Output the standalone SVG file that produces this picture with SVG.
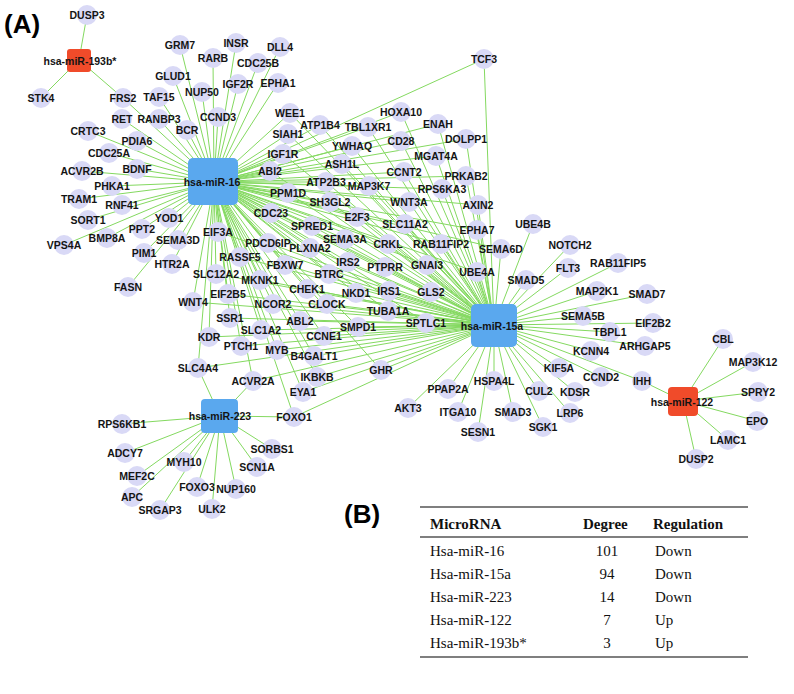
<svg xmlns="http://www.w3.org/2000/svg" width="794" height="694" viewBox="0 0 794 694">
<style>
.bg{fill:#ffffff}
#edges line{stroke:#84d960;stroke-width:1}
.n circle{fill:#d9d9f6}
.n text,.h text{font-family:"Liberation Sans",Arial,sans-serif;font-weight:bold;font-size:10.5px;fill:#141414;text-anchor:middle;dominant-baseline:central}
.hb rect{fill:#5aa8ee}
.hr rect{fill:#f04b2a}
.pl{font-family:"Liberation Sans",Arial,sans-serif;font-weight:bold;font-size:26px;fill:#000}
.tb{font-family:"Liberation Serif","Times New Roman",serif;font-size:15px;fill:#111}
.th{font-weight:bold}
.rule{stroke:#000;stroke-width:1.2}
</style>
<rect class="bg" x="0" y="0" width="794" height="694"/>
<text class="pl" x="4" y="33">(A)</text>
<text class="pl" x="344" y="523">(B)</text>
<g id="edges">
<g id="e-miR-193b">
<line x1="79" y1="60" x2="87" y2="15"/><line x1="79" y1="60" x2="41" y2="98"/><line x1="79" y1="60" x2="123" y2="98"/>
</g>
<g id="e-miR-122">
<line x1="683" y1="401" x2="723" y2="339"/><line x1="683" y1="401" x2="753" y2="362"/><line x1="683" y1="401" x2="758" y2="392"/><line x1="683" y1="401" x2="757" y2="421"/><line x1="683" y1="401" x2="728" y2="440"/><line x1="683" y1="401" x2="696" y2="459"/><line x1="683" y1="401" x2="642" y2="381"/>
</g>
<g id="e-miR-223">
<line x1="220" y1="416" x2="122" y2="424"/><line x1="220" y1="416" x2="125" y2="453"/><line x1="220" y1="416" x2="137" y2="476"/><line x1="220" y1="416" x2="132" y2="497"/><line x1="220" y1="416" x2="160" y2="510"/><line x1="220" y1="416" x2="212" y2="509"/><line x1="220" y1="416" x2="197" y2="487"/><line x1="220" y1="416" x2="236" y2="489"/><line x1="220" y1="416" x2="184" y2="462"/><line x1="220" y1="416" x2="257" y2="467"/><line x1="220" y1="416" x2="272" y2="449"/><line x1="220" y1="416" x2="294" y2="417"/><line x1="220" y1="416" x2="253" y2="381"/><line x1="220" y1="416" x2="198" y2="368"/>
</g>
<g id="e-miR-16">
<line x1="214" y1="182" x2="123" y2="98"/><line x1="214" y1="182" x2="180" y2="45"/><line x1="214" y1="182" x2="236" y2="43"/><line x1="214" y1="182" x2="213" y2="58"/><line x1="214" y1="182" x2="280" y2="47"/><line x1="214" y1="182" x2="258" y2="63"/><line x1="214" y1="182" x2="173" y2="76"/><line x1="214" y1="182" x2="238" y2="84"/><line x1="214" y1="182" x2="278" y2="83"/><line x1="214" y1="182" x2="202" y2="92"/><line x1="214" y1="182" x2="159" y2="97"/><line x1="214" y1="182" x2="218" y2="117"/><line x1="214" y1="182" x2="122" y2="119"/><line x1="214" y1="182" x2="159" y2="119"/><line x1="214" y1="182" x2="187" y2="130"/><line x1="214" y1="182" x2="88" y2="131"/><line x1="214" y1="182" x2="137" y2="141"/><line x1="214" y1="182" x2="109" y2="153"/><line x1="214" y1="182" x2="82" y2="171"/><line x1="214" y1="182" x2="137" y2="169"/><line x1="214" y1="182" x2="112" y2="186"/><line x1="214" y1="182" x2="79" y2="199"/><line x1="214" y1="182" x2="122" y2="205"/><line x1="214" y1="182" x2="88" y2="220"/><line x1="214" y1="182" x2="169" y2="218"/><line x1="214" y1="182" x2="142" y2="229"/><line x1="214" y1="182" x2="107" y2="238"/><line x1="214" y1="182" x2="64" y2="245"/><line x1="214" y1="182" x2="178" y2="240"/><line x1="214" y1="182" x2="144" y2="253"/><line x1="214" y1="182" x2="172" y2="264"/><line x1="214" y1="182" x2="128" y2="287"/>
<line x1="214" y1="182" x2="193" y2="302"/><line x1="214" y1="182" x2="218" y2="232"/><line x1="214" y1="182" x2="216" y2="274"/><line x1="214" y1="182" x2="240" y2="257"/><line x1="214" y1="182" x2="228" y2="294"/><line x1="214" y1="182" x2="230" y2="318"/><line x1="214" y1="182" x2="209" y2="337"/><line x1="214" y1="182" x2="260" y2="280"/><line x1="214" y1="182" x2="268" y2="243"/><line x1="214" y1="182" x2="285" y2="265"/><line x1="214" y1="182" x2="271" y2="213"/><line x1="214" y1="182" x2="288" y2="193"/><line x1="214" y1="182" x2="270" y2="171"/><line x1="214" y1="182" x2="283" y2="154"/><line x1="214" y1="182" x2="288" y2="134"/><line x1="214" y1="182" x2="290" y2="113"/><line x1="214" y1="182" x2="320" y2="125"/><line x1="214" y1="182" x2="368" y2="127"/><line x1="214" y1="182" x2="352" y2="146"/><line x1="214" y1="182" x2="342" y2="164"/><line x1="214" y1="182" x2="401" y2="112"/><line x1="214" y1="182" x2="438" y2="124"/><line x1="214" y1="182" x2="401" y2="141"/><line x1="214" y1="182" x2="466" y2="139"/><line x1="214" y1="182" x2="436" y2="156"/><line x1="214" y1="182" x2="404" y2="172"/><line x1="214" y1="182" x2="466" y2="176"/><line x1="214" y1="182" x2="442" y2="189"/><line x1="214" y1="182" x2="478" y2="205"/><line x1="214" y1="182" x2="409" y2="202"/><line x1="214" y1="182" x2="369" y2="186"/><line x1="214" y1="182" x2="326" y2="182"/><line x1="214" y1="182" x2="330" y2="202"/><line x1="214" y1="182" x2="357" y2="217"/><line x1="214" y1="182" x2="312" y2="226"/><line x1="214" y1="182" x2="345" y2="239"/><line x1="214" y1="182" x2="310" y2="248"/><line x1="214" y1="182" x2="388" y2="244"/><line x1="214" y1="182" x2="348" y2="262"/><line x1="214" y1="182" x2="385" y2="267"/><line x1="214" y1="182" x2="329" y2="274"/><line x1="214" y1="182" x2="405" y2="224"/><line x1="214" y1="182" x2="441" y2="244"/><line x1="214" y1="182" x2="477" y2="230"/><line x1="214" y1="182" x2="501" y2="249"/><line x1="214" y1="182" x2="427" y2="265"/><line x1="214" y1="182" x2="477" y2="272"/><line x1="214" y1="182" x2="381" y2="370"/><line x1="214" y1="182" x2="426" y2="323"/><line x1="214" y1="182" x2="431" y2="292"/><line x1="214" y1="182" x2="389" y2="291"/><line x1="214" y1="182" x2="388" y2="311"/><line x1="214" y1="182" x2="356" y2="293"/><line x1="214" y1="182" x2="307" y2="289"/><line x1="214" y1="182" x2="327" y2="304"/><line x1="214" y1="182" x2="273" y2="304"/><line x1="214" y1="182" x2="300" y2="321"/><line x1="214" y1="182" x2="358" y2="327"/><line x1="214" y1="182" x2="324" y2="336"/><line x1="214" y1="182" x2="261" y2="330"/><line x1="214" y1="182" x2="241" y2="346"/><line x1="214" y1="182" x2="277" y2="350"/><line x1="214" y1="182" x2="314" y2="356"/><line x1="214" y1="182" x2="198" y2="368"/><line x1="214" y1="182" x2="253" y2="381"/><line x1="214" y1="182" x2="317" y2="377"/><line x1="214" y1="182" x2="303" y2="392"/><line x1="214" y1="182" x2="294" y2="417"/><line x1="214" y1="182" x2="484" y2="59"/>
</g>
<g id="e-miR-15a">
<line x1="494" y1="325" x2="193" y2="302"/><line x1="494" y1="325" x2="218" y2="232"/><line x1="494" y1="325" x2="216" y2="274"/><line x1="494" y1="325" x2="240" y2="257"/><line x1="494" y1="325" x2="228" y2="294"/><line x1="494" y1="325" x2="230" y2="318"/><line x1="494" y1="325" x2="209" y2="337"/><line x1="494" y1="325" x2="260" y2="280"/><line x1="494" y1="325" x2="268" y2="243"/><line x1="494" y1="325" x2="285" y2="265"/><line x1="494" y1="325" x2="271" y2="213"/><line x1="494" y1="325" x2="288" y2="193"/><line x1="494" y1="325" x2="270" y2="171"/><line x1="494" y1="325" x2="283" y2="154"/><line x1="494" y1="325" x2="288" y2="134"/><line x1="494" y1="325" x2="290" y2="113"/><line x1="494" y1="325" x2="320" y2="125"/><line x1="494" y1="325" x2="368" y2="127"/><line x1="494" y1="325" x2="352" y2="146"/><line x1="494" y1="325" x2="342" y2="164"/><line x1="494" y1="325" x2="401" y2="112"/><line x1="494" y1="325" x2="438" y2="124"/><line x1="494" y1="325" x2="401" y2="141"/><line x1="494" y1="325" x2="466" y2="139"/><line x1="494" y1="325" x2="436" y2="156"/><line x1="494" y1="325" x2="404" y2="172"/><line x1="494" y1="325" x2="466" y2="176"/><line x1="494" y1="325" x2="442" y2="189"/><line x1="494" y1="325" x2="478" y2="205"/><line x1="494" y1="325" x2="409" y2="202"/><line x1="494" y1="325" x2="369" y2="186"/><line x1="494" y1="325" x2="326" y2="182"/><line x1="494" y1="325" x2="330" y2="202"/><line x1="494" y1="325" x2="357" y2="217"/><line x1="494" y1="325" x2="312" y2="226"/><line x1="494" y1="325" x2="345" y2="239"/><line x1="494" y1="325" x2="310" y2="248"/><line x1="494" y1="325" x2="388" y2="244"/><line x1="494" y1="325" x2="348" y2="262"/><line x1="494" y1="325" x2="385" y2="267"/><line x1="494" y1="325" x2="329" y2="274"/><line x1="494" y1="325" x2="405" y2="224"/><line x1="494" y1="325" x2="441" y2="244"/><line x1="494" y1="325" x2="477" y2="230"/><line x1="494" y1="325" x2="501" y2="249"/><line x1="494" y1="325" x2="427" y2="265"/><line x1="494" y1="325" x2="477" y2="272"/><line x1="494" y1="325" x2="381" y2="370"/><line x1="494" y1="325" x2="426" y2="323"/><line x1="494" y1="325" x2="431" y2="292"/><line x1="494" y1="325" x2="389" y2="291"/><line x1="494" y1="325" x2="388" y2="311"/><line x1="494" y1="325" x2="356" y2="293"/><line x1="494" y1="325" x2="307" y2="289"/><line x1="494" y1="325" x2="327" y2="304"/><line x1="494" y1="325" x2="273" y2="304"/><line x1="494" y1="325" x2="300" y2="321"/><line x1="494" y1="325" x2="358" y2="327"/><line x1="494" y1="325" x2="324" y2="336"/><line x1="494" y1="325" x2="261" y2="330"/><line x1="494" y1="325" x2="241" y2="346"/><line x1="494" y1="325" x2="277" y2="350"/><line x1="494" y1="325" x2="314" y2="356"/><line x1="494" y1="325" x2="198" y2="368"/><line x1="494" y1="325" x2="253" y2="381"/><line x1="494" y1="325" x2="317" y2="377"/><line x1="494" y1="325" x2="303" y2="392"/><line x1="494" y1="325" x2="294" y2="417"/><line x1="494" y1="325" x2="484" y2="59"/>
<line x1="494" y1="325" x2="533" y2="224"/><line x1="494" y1="325" x2="570" y2="245"/><line x1="494" y1="325" x2="568" y2="268"/><line x1="494" y1="325" x2="618" y2="263"/><line x1="494" y1="325" x2="597" y2="291"/><line x1="494" y1="325" x2="647" y2="294"/><line x1="494" y1="325" x2="583" y2="316"/><line x1="494" y1="325" x2="653" y2="323"/><line x1="494" y1="325" x2="610" y2="332"/><line x1="494" y1="325" x2="645" y2="346"/><line x1="494" y1="325" x2="591" y2="351"/><line x1="494" y1="325" x2="601" y2="377"/><line x1="494" y1="325" x2="642" y2="381"/><line x1="494" y1="325" x2="559" y2="368"/><line x1="494" y1="325" x2="575" y2="392"/><line x1="494" y1="325" x2="570" y2="413"/><line x1="494" y1="325" x2="543" y2="427"/><line x1="494" y1="325" x2="539" y2="391"/><line x1="494" y1="325" x2="513" y2="412"/><line x1="494" y1="325" x2="494" y2="381"/><line x1="494" y1="325" x2="478" y2="432"/><line x1="494" y1="325" x2="458" y2="412"/><line x1="494" y1="325" x2="448" y2="389"/><line x1="494" y1="325" x2="408" y2="408"/><line x1="494" y1="325" x2="526" y2="280"/>
</g>
</g>
<g id="nodes">
<g class="n" id="n-DUSP3"><circle cx="87" cy="15" r="10"/><text x="87" y="15">DUSP3</text></g>
<g class="n" id="n-STK4"><circle cx="41" cy="98" r="10"/><text x="41" y="98">STK4</text></g>
<g class="n" id="n-FRS2"><circle cx="123" cy="98" r="10"/><text x="123" y="98">FRS2</text></g>
<g class="n" id="n-GRM7"><circle cx="180" cy="45" r="10"/><text x="180" y="45">GRM7</text></g>
<g class="n" id="n-INSR"><circle cx="236" cy="43" r="10"/><text x="236" y="43">INSR</text></g>
<g class="n" id="n-RARB"><circle cx="213" cy="58" r="10"/><text x="213" y="58">RARB</text></g>
<g class="n" id="n-DLL4"><circle cx="280" cy="47" r="10"/><text x="280" y="47">DLL4</text></g>
<g class="n" id="n-CDC25B"><circle cx="258" cy="63" r="10"/><text x="258" y="63">CDC25B</text></g>
<g class="n" id="n-GLUD1"><circle cx="173" cy="76" r="10"/><text x="173" y="76">GLUD1</text></g>
<g class="n" id="n-IGF2R"><circle cx="238" cy="84" r="10"/><text x="238" y="84">IGF2R</text></g>
<g class="n" id="n-EPHA1"><circle cx="278" cy="83" r="10"/><text x="278" y="83">EPHA1</text></g>
<g class="n" id="n-NUP50"><circle cx="202" cy="92" r="10"/><text x="202" y="92">NUP50</text></g>
<g class="n" id="n-TAF15"><circle cx="159" cy="97" r="10"/><text x="159" y="97">TAF15</text></g>
<g class="n" id="n-CCND3"><circle cx="218" cy="117" r="10"/><text x="218" y="117">CCND3</text></g>
<g class="n" id="n-RET"><circle cx="122" cy="119" r="10"/><text x="122" y="119">RET</text></g>
<g class="n" id="n-RANBP3"><circle cx="159" cy="119" r="10"/><text x="159" y="119">RANBP3</text></g>
<g class="n" id="n-BCR"><circle cx="187" cy="130" r="10"/><text x="187" y="130">BCR</text></g>
<g class="n" id="n-CRTC3"><circle cx="88" cy="131" r="10"/><text x="88" y="131">CRTC3</text></g>
<g class="n" id="n-PDIA6"><circle cx="137" cy="141" r="10"/><text x="137" y="141">PDIA6</text></g>
<g class="n" id="n-CDC25A"><circle cx="109" cy="153" r="10"/><text x="109" y="153">CDC25A</text></g>
<g class="n" id="n-ACVR2B"><circle cx="82" cy="171" r="10"/><text x="82" y="171">ACVR2B</text></g>
<g class="n" id="n-BDNF"><circle cx="137" cy="169" r="10"/><text x="137" y="169">BDNF</text></g>
<g class="n" id="n-PHKA1"><circle cx="112" cy="186" r="10"/><text x="112" y="186">PHKA1</text></g>
<g class="n" id="n-TRAM1"><circle cx="79" cy="199" r="10"/><text x="79" y="199">TRAM1</text></g>
<g class="n" id="n-RNF41"><circle cx="122" cy="205" r="10"/><text x="122" y="205">RNF41</text></g>
<g class="n" id="n-SORT1"><circle cx="88" cy="220" r="10"/><text x="88" y="220">SORT1</text></g>
<g class="n" id="n-YOD1"><circle cx="169" cy="218" r="10"/><text x="169" y="218">YOD1</text></g>
<g class="n" id="n-PPT2"><circle cx="142" cy="229" r="10"/><text x="142" y="229">PPT2</text></g>
<g class="n" id="n-BMP8A"><circle cx="107" cy="238" r="10"/><text x="107" y="238">BMP8A</text></g>
<g class="n" id="n-VPS4A"><circle cx="64" cy="245" r="10"/><text x="64" y="245">VPS4A</text></g>
<g class="n" id="n-SEMA3D"><circle cx="178" cy="240" r="10"/><text x="178" y="240">SEMA3D</text></g>
<g class="n" id="n-PIM1"><circle cx="144" cy="253" r="10"/><text x="144" y="253">PIM1</text></g>
<g class="n" id="n-HTR2A"><circle cx="172" cy="264" r="10"/><text x="172" y="264">HTR2A</text></g>
<g class="n" id="n-FASN"><circle cx="128" cy="287" r="10"/><text x="128" y="287">FASN</text></g>
<g class="n" id="n-WNT4"><circle cx="193" cy="302" r="10"/><text x="193" y="302">WNT4</text></g>
<g class="n" id="n-EIF3A"><circle cx="218" cy="232" r="10"/><text x="218" y="232">EIF3A</text></g>
<g class="n" id="n-SLC12A2"><circle cx="216" cy="274" r="10"/><text x="216" y="274">SLC12A2</text></g>
<g class="n" id="n-RASSF5"><circle cx="240" cy="257" r="10"/><text x="240" y="257">RASSF5</text></g>
<g class="n" id="n-EIF2B5"><circle cx="228" cy="294" r="10"/><text x="228" y="294">EIF2B5</text></g>
<g class="n" id="n-SSR1"><circle cx="230" cy="318" r="10"/><text x="230" y="318">SSR1</text></g>
<g class="n" id="n-KDR"><circle cx="209" cy="337" r="10"/><text x="209" y="337">KDR</text></g>
<g class="n" id="n-MKNK1"><circle cx="260" cy="280" r="10"/><text x="260" y="280">MKNK1</text></g>
<g class="n" id="n-PDCD6IP"><circle cx="268" cy="243" r="10"/><text x="268" y="243">PDCD6IP</text></g>
<g class="n" id="n-FBXW7"><circle cx="285" cy="265" r="10"/><text x="285" y="265">FBXW7</text></g>
<g class="n" id="n-CDC23"><circle cx="271" cy="213" r="10"/><text x="271" y="213">CDC23</text></g>
<g class="n" id="n-PPM1D"><circle cx="288" cy="193" r="10"/><text x="288" y="193">PPM1D</text></g>
<g class="n" id="n-ABI2"><circle cx="270" cy="171" r="10"/><text x="270" y="171">ABI2</text></g>
<g class="n" id="n-IGF1R"><circle cx="283" cy="154" r="10"/><text x="283" y="154">IGF1R</text></g>
<g class="n" id="n-SIAH1"><circle cx="288" cy="134" r="10"/><text x="288" y="134">SIAH1</text></g>
<g class="n" id="n-WEE1"><circle cx="290" cy="113" r="10"/><text x="290" y="113">WEE1</text></g>
<g class="n" id="n-ATP1B4"><circle cx="320" cy="125" r="10"/><text x="320" y="125">ATP1B4</text></g>
<g class="n" id="n-TBL1XR1"><circle cx="368" cy="127" r="10"/><text x="368" y="127">TBL1XR1</text></g>
<g class="n" id="n-YWHAQ"><circle cx="352" cy="146" r="10"/><text x="352" y="146">YWHAQ</text></g>
<g class="n" id="n-ASH1L"><circle cx="342" cy="164" r="10"/><text x="342" y="164">ASH1L</text></g>
<g class="n" id="n-HOXA10"><circle cx="401" cy="112" r="10"/><text x="401" y="112">HOXA10</text></g>
<g class="n" id="n-ENAH"><circle cx="438" cy="124" r="10"/><text x="438" y="124">ENAH</text></g>
<g class="n" id="n-CD28"><circle cx="401" cy="141" r="10"/><text x="401" y="141">CD28</text></g>
<g class="n" id="n-DOLPP1"><circle cx="466" cy="139" r="10"/><text x="466" y="139">DOLPP1</text></g>
<g class="n" id="n-MGAT4A"><circle cx="436" cy="156" r="10"/><text x="436" y="156">MGAT4A</text></g>
<g class="n" id="n-CCNT2"><circle cx="404" cy="172" r="10"/><text x="404" y="172">CCNT2</text></g>
<g class="n" id="n-PRKAB2"><circle cx="466" cy="176" r="10"/><text x="466" y="176">PRKAB2</text></g>
<g class="n" id="n-RPS6KA3"><circle cx="442" cy="189" r="10"/><text x="442" y="189">RPS6KA3</text></g>
<g class="n" id="n-AXIN2"><circle cx="478" cy="205" r="10"/><text x="478" y="205">AXIN2</text></g>
<g class="n" id="n-WNT3A"><circle cx="409" cy="202" r="10"/><text x="409" y="202">WNT3A</text></g>
<g class="n" id="n-MAP3K7"><circle cx="369" cy="186" r="10"/><text x="369" y="186">MAP3K7</text></g>
<g class="n" id="n-ATP2B3"><circle cx="326" cy="182" r="10"/><text x="326" y="182">ATP2B3</text></g>
<g class="n" id="n-SH3GL2"><circle cx="330" cy="202" r="10"/><text x="330" y="202">SH3GL2</text></g>
<g class="n" id="n-E2F3"><circle cx="357" cy="217" r="10"/><text x="357" y="217">E2F3</text></g>
<g class="n" id="n-SPRED1"><circle cx="312" cy="226" r="10"/><text x="312" y="226">SPRED1</text></g>
<g class="n" id="n-SEMA3A"><circle cx="345" cy="239" r="10"/><text x="345" y="239">SEMA3A</text></g>
<g class="n" id="n-PLXNA2"><circle cx="310" cy="248" r="10"/><text x="310" y="248">PLXNA2</text></g>
<g class="n" id="n-CRKL"><circle cx="388" cy="244" r="10"/><text x="388" y="244">CRKL</text></g>
<g class="n" id="n-IRS2"><circle cx="348" cy="262" r="10"/><text x="348" y="262">IRS2</text></g>
<g class="n" id="n-PTPRR"><circle cx="385" cy="267" r="10"/><text x="385" y="267">PTPRR</text></g>
<g class="n" id="n-BTRC"><circle cx="329" cy="274" r="10"/><text x="329" y="274">BTRC</text></g>
<g class="n" id="n-SLC11A2"><circle cx="405" cy="224" r="10"/><text x="405" y="224">SLC11A2</text></g>
<g class="n" id="n-RAB11FIP2"><circle cx="441" cy="244" r="10"/><text x="441" y="244">RAB11FIP2</text></g>
<g class="n" id="n-EPHA7"><circle cx="477" cy="230" r="10"/><text x="477" y="230">EPHA7</text></g>
<g class="n" id="n-SEMA6D"><circle cx="501" cy="249" r="10"/><text x="501" y="249">SEMA6D</text></g>
<g class="n" id="n-GNAI3"><circle cx="427" cy="265" r="10"/><text x="427" y="265">GNAI3</text></g>
<g class="n" id="n-UBE4A"><circle cx="477" cy="272" r="10"/><text x="477" y="272">UBE4A</text></g>
<g class="n" id="n-GHR"><circle cx="381" cy="370" r="10"/><text x="381" y="370">GHR</text></g>
<g class="n" id="n-SPTLC1"><circle cx="426" cy="323" r="10"/><text x="426" y="323">SPTLC1</text></g>
<g class="n" id="n-GLS2"><circle cx="431" cy="292" r="10"/><text x="431" y="292">GLS2</text></g>
<g class="n" id="n-IRS1"><circle cx="389" cy="291" r="10"/><text x="389" y="291">IRS1</text></g>
<g class="n" id="n-TUBA1A"><circle cx="388" cy="311" r="10"/><text x="388" y="311">TUBA1A</text></g>
<g class="n" id="n-NKD1"><circle cx="356" cy="293" r="10"/><text x="356" y="293">NKD1</text></g>
<g class="n" id="n-CHEK1"><circle cx="307" cy="289" r="10"/><text x="307" y="289">CHEK1</text></g>
<g class="n" id="n-CLOCK"><circle cx="327" cy="304" r="10"/><text x="327" y="304">CLOCK</text></g>
<g class="n" id="n-NCOR2"><circle cx="273" cy="304" r="10"/><text x="273" y="304">NCOR2</text></g>
<g class="n" id="n-ABL2"><circle cx="300" cy="321" r="10"/><text x="300" y="321">ABL2</text></g>
<g class="n" id="n-SMPD1"><circle cx="358" cy="327" r="10"/><text x="358" y="327">SMPD1</text></g>
<g class="n" id="n-CCNE1"><circle cx="324" cy="336" r="10"/><text x="324" y="336">CCNE1</text></g>
<g class="n" id="n-SLC1A2"><circle cx="261" cy="330" r="10"/><text x="261" y="330">SLC1A2</text></g>
<g class="n" id="n-PTCH1"><circle cx="241" cy="346" r="10"/><text x="241" y="346">PTCH1</text></g>
<g class="n" id="n-MYB"><circle cx="277" cy="350" r="10"/><text x="277" y="350">MYB</text></g>
<g class="n" id="n-B4GALT1"><circle cx="314" cy="356" r="10"/><text x="314" y="356">B4GALT1</text></g>
<g class="n" id="n-SLC4A4"><circle cx="198" cy="368" r="10"/><text x="198" y="368">SLC4A4</text></g>
<g class="n" id="n-ACVR2A"><circle cx="253" cy="381" r="10"/><text x="253" y="381">ACVR2A</text></g>
<g class="n" id="n-IKBKB"><circle cx="317" cy="377" r="10"/><text x="317" y="377">IKBKB</text></g>
<g class="n" id="n-EYA1"><circle cx="303" cy="392" r="10"/><text x="303" y="392">EYA1</text></g>
<g class="n" id="n-FOXO1"><circle cx="294" cy="417" r="10"/><text x="294" y="417">FOXO1</text></g>
<g class="n" id="n-TCF3"><circle cx="484" cy="59" r="10"/><text x="484" y="59">TCF3</text></g>
<g class="n" id="n-UBE4B"><circle cx="533" cy="224" r="10"/><text x="533" y="224">UBE4B</text></g>
<g class="n" id="n-NOTCH2"><circle cx="570" cy="245" r="10"/><text x="570" y="245">NOTCH2</text></g>
<g class="n" id="n-FLT3"><circle cx="568" cy="268" r="10"/><text x="568" y="268">FLT3</text></g>
<g class="n" id="n-RAB11FIP5"><circle cx="618" cy="263" r="10"/><text x="618" y="263">RAB11FIP5</text></g>
<g class="n" id="n-MAP2K1"><circle cx="597" cy="291" r="10"/><text x="597" y="291">MAP2K1</text></g>
<g class="n" id="n-SMAD7"><circle cx="647" cy="294" r="10"/><text x="647" y="294">SMAD7</text></g>
<g class="n" id="n-SEMA5B"><circle cx="583" cy="316" r="10"/><text x="583" y="316">SEMA5B</text></g>
<g class="n" id="n-EIF2B2"><circle cx="653" cy="323" r="10"/><text x="653" y="323">EIF2B2</text></g>
<g class="n" id="n-TBPL1"><circle cx="610" cy="332" r="10"/><text x="610" y="332">TBPL1</text></g>
<g class="n" id="n-ARHGAP5"><circle cx="645" cy="346" r="10"/><text x="645" y="346">ARHGAP5</text></g>
<g class="n" id="n-KCNN4"><circle cx="591" cy="351" r="10"/><text x="591" y="351">KCNN4</text></g>
<g class="n" id="n-CCND2"><circle cx="601" cy="377" r="10"/><text x="601" y="377">CCND2</text></g>
<g class="n" id="n-IHH"><circle cx="642" cy="381" r="10"/><text x="642" y="381">IHH</text></g>
<g class="n" id="n-KIF5A"><circle cx="559" cy="368" r="10"/><text x="559" y="368">KIF5A</text></g>
<g class="n" id="n-KDSR"><circle cx="575" cy="392" r="10"/><text x="575" y="392">KDSR</text></g>
<g class="n" id="n-LRP6"><circle cx="570" cy="413" r="10"/><text x="570" y="413">LRP6</text></g>
<g class="n" id="n-SGK1"><circle cx="543" cy="427" r="10"/><text x="543" y="427">SGK1</text></g>
<g class="n" id="n-CUL2"><circle cx="539" cy="391" r="10"/><text x="539" y="391">CUL2</text></g>
<g class="n" id="n-SMAD3"><circle cx="513" cy="412" r="10"/><text x="513" y="412">SMAD3</text></g>
<g class="n" id="n-HSPA4L"><circle cx="494" cy="381" r="10"/><text x="494" y="381">HSPA4L</text></g>
<g class="n" id="n-SESN1"><circle cx="478" cy="432" r="10"/><text x="478" y="432">SESN1</text></g>
<g class="n" id="n-ITGA10"><circle cx="458" cy="412" r="10"/><text x="458" y="412">ITGA10</text></g>
<g class="n" id="n-PPAP2A"><circle cx="448" cy="389" r="10"/><text x="448" y="389">PPAP2A</text></g>
<g class="n" id="n-AKT3"><circle cx="408" cy="408" r="10"/><text x="408" y="408">AKT3</text></g>
<g class="n" id="n-SMAD5"><circle cx="526" cy="280" r="10"/><text x="526" y="280">SMAD5</text></g>
<g class="n" id="n-RPS6KB1"><circle cx="122" cy="424" r="10"/><text x="122" y="424">RPS6KB1</text></g>
<g class="n" id="n-ADCY7"><circle cx="125" cy="453" r="10"/><text x="125" y="453">ADCY7</text></g>
<g class="n" id="n-MEF2C"><circle cx="137" cy="476" r="10"/><text x="137" y="476">MEF2C</text></g>
<g class="n" id="n-APC"><circle cx="132" cy="497" r="10"/><text x="132" y="497">APC</text></g>
<g class="n" id="n-SRGAP3"><circle cx="160" cy="510" r="10"/><text x="160" y="510">SRGAP3</text></g>
<g class="n" id="n-ULK2"><circle cx="212" cy="509" r="10"/><text x="212" y="509">ULK2</text></g>
<g class="n" id="n-FOXO3"><circle cx="197" cy="487" r="10"/><text x="197" y="487">FOXO3</text></g>
<g class="n" id="n-NUP160"><circle cx="236" cy="489" r="10"/><text x="236" y="489">NUP160</text></g>
<g class="n" id="n-MYH10"><circle cx="184" cy="462" r="10"/><text x="184" y="462">MYH10</text></g>
<g class="n" id="n-SCN1A"><circle cx="257" cy="467" r="10"/><text x="257" y="467">SCN1A</text></g>
<g class="n" id="n-SORBS1"><circle cx="272" cy="449" r="10"/><text x="272" y="449">SORBS1</text></g>
<g class="n" id="n-CBL"><circle cx="723" cy="339" r="10"/><text x="723" y="339">CBL</text></g>
<g class="n" id="n-MAP3K12"><circle cx="753" cy="362" r="10"/><text x="753" y="362">MAP3K12</text></g>
<g class="n" id="n-SPRY2"><circle cx="758" cy="392" r="10"/><text x="758" y="392">SPRY2</text></g>
<g class="n" id="n-EPO"><circle cx="757" cy="421" r="10"/><text x="757" y="421">EPO</text></g>
<g class="n" id="n-LAMC1"><circle cx="728" cy="440" r="10"/><text x="728" y="440">LAMC1</text></g>
<g class="n" id="n-DUSP2"><circle cx="696" cy="459" r="10"/><text x="696" y="459">DUSP2</text></g>
</g>
<g id="hubs">
<g class="h hr" id="hub-miR-193b"><rect x="67" y="49" width="24" height="23" rx="3"/><text x="80" y="61">hsa-miR-193b*</text></g>
<g class="h hb" id="hub-miR-16"><rect x="188" y="158" width="50" height="47" rx="5"/><text x="212" y="182">hsa-miR-16</text></g>
<g class="h hb" id="hub-miR-15a"><rect x="471" y="304" width="46" height="43" rx="5"/><text x="492" y="326">hsa-miR-15a</text></g>
<g class="h hb" id="hub-miR-223"><rect x="201" y="399" width="37" height="34" rx="4"/><text x="220" y="416">hsa-miR-223</text></g>
<g class="h hr" id="hub-miR-122"><rect x="668" y="387" width="30" height="29" rx="4"/><text x="682" y="402">hsa-miR-122</text></g>
</g>
<g id="table">
<line class="rule" x1="420" y1="507" x2="748" y2="507"/>
<line class="rule" x1="420" y1="537" x2="748" y2="537"/>
<line class="rule" x1="420" y1="657" x2="748" y2="657"/>
<text class="tb th" x="430" y="529">MicroRNA</text>
<text class="tb th" x="583" y="529">Degree</text>
<text class="tb th" x="653" y="529">Regulation</text>
<text class="tb" x="430" y="556">Hsa-miR-16</text><text class="tb" x="607" y="556" text-anchor="middle">101</text><text class="tb" x="655" y="556">Down</text>
<text class="tb" x="430" y="579">Hsa-miR-15a</text><text class="tb" x="607" y="579" text-anchor="middle">94</text><text class="tb" x="655" y="579">Down</text>
<text class="tb" x="430" y="602">Hsa-miR-223</text><text class="tb" x="607" y="602" text-anchor="middle">14</text><text class="tb" x="655" y="602">Down</text>
<text class="tb" x="430" y="625">Hsa-miR-122</text><text class="tb" x="607" y="625" text-anchor="middle">7</text><text class="tb" x="655" y="625">Up</text>
<text class="tb" x="430" y="648">Hsa-miR-193b*</text><text class="tb" x="607" y="648" text-anchor="middle">3</text><text class="tb" x="655" y="648">Up</text>
</g>
</svg>
